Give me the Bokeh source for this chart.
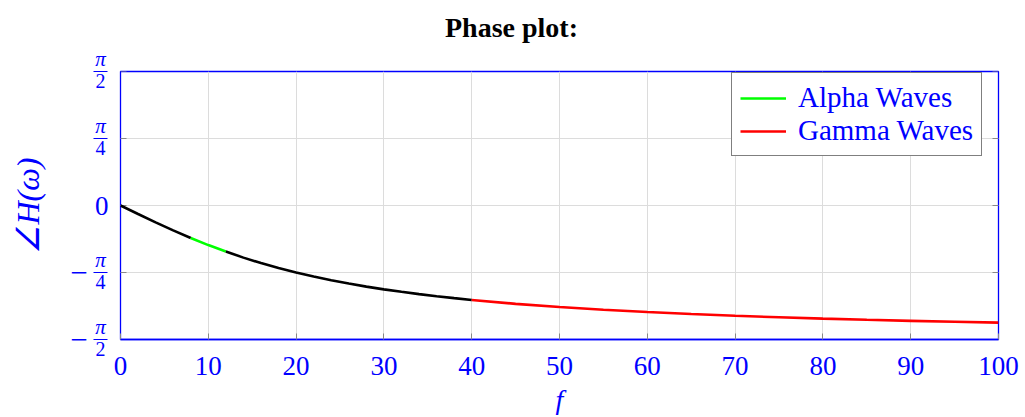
import math
from bokeh.plotting import figure
from bokeh.models import Range1d, FixedTicker, Legend, LegendItem, ColumnDataSource
from bokeh.core.properties import value
from bokeh.embed import file_html
from bokeh.resources import INLINE

# ---- data ----
freq = [0, 2, 4, 6, 8, 10, 12, 14, 16, 18, 20, 22, 24, 26, 28, 30, 32, 34, 36, 38, 40,
        45, 50, 55, 60, 65, 70, 75, 80, 85, 90, 95, 100]
phase = [0.0, -0.10, -0.197, -0.292, -0.381, -0.464, -0.540, -0.611, -0.675, -0.733, -0.785,
         -0.833, -0.876, -0.915, -0.951, -0.983, -1.012, -1.039, -1.064, -1.086, -1.107,
         -1.153, -1.190, -1.222, -1.249, -1.272, -1.293, -1.310, -1.326, -1.340, -1.352, -1.363, -1.373]
alpha_band = (8, 12)
gamma_band = (40, 100)
x_ticks = [0, 10, 20, 30, 40, 50, 60, 70, 80, 90, 100]
y_ticks = [-math.pi / 2, -math.pi / 4, 0, math.pi / 4, math.pi / 2]
y_tick_sign = ["−", "−", "", "", ""]
y_tick_num = ["π", "π", "0", "π", "π"]
y_tick_den = ["2", "4", "", "4", "2"]
title_text = "Phase plot:"
x_label = "f"
y_label = "∠H(ω)"
series_names = ["Alpha Waves", "Gamma Waves"]

BLUE = "#0000ff"
SERIF = "Liberation Serif"

TOP, FRAME_H, BOTTOM = 71, 268, 77
LEFT_W, FRAME_W, RIGHT = 120, 878, 26
H = TOP + FRAME_H + BOTTOM
W = LEFT_W + FRAME_W + RIGHT
dy = math.pi / FRAME_H  # radians per pixel
dx = 100 / FRAME_W      # f units per pixel

# ---------------- main plot ----------------
p = figure(frame_width=FRAME_W, frame_height=FRAME_H, output_backend="svg",
           toolbar_location=None, title=None,
           x_range=Range1d(0, 100), y_range=Range1d(-math.pi / 2, math.pi / 2),
           y_axis_location=None,
           min_border_left=LEFT_W, min_border_right=RIGHT, min_border_top=TOP,
           min_border_bottom=BOTTOM)
p.background_fill_color = "white"
p.border_fill_color = "white"
p.outline_line_color = BLUE
p.outline_line_width = 1.3

xa = p.xaxis[0]
xa.ticker = FixedTicker(ticks=x_ticks)
xa.axis_line_color = BLUE
xa.axis_line_width = 1.3
xa.major_tick_in = 6
xa.major_tick_out = 0
xa.major_tick_line_color = "#888888"
xa.minor_tick_line_color = None
xa.major_label_text_font = SERIF
xa.major_label_text_font_size = "27px"
xa.major_label_text_color = BLUE
xa.major_label_standoff = 17

p.xgrid.ticker = FixedTicker(ticks=x_ticks)
p.xgrid.grid_line_color = "#dcdcdc"
p.ygrid.ticker = FixedTicker(ticks=y_ticks)
p.ygrid.grid_line_color = "#dcdcdc"

# inward grey tick marks on the left and right frame edges
p.segment(x0=[0] * len(y_ticks), x1=[6 * dx] * len(y_ticks), y0=y_ticks, y1=y_ticks,
          line_color="#888888", line_width=1)
p.segment(x0=[100 - 6 * dx] * len(y_ticks), x1=[100] * len(y_ticks), y0=y_ticks, y1=y_ticks,
          line_color="#888888", line_width=1)

def seg(lo, hi):
    xs = [f for f in freq if lo <= f <= hi]
    ys = [v for f, v in zip(freq, phase) if lo <= f <= hi]
    return xs, ys

lw = 2.6
x1, y1 = seg(0, alpha_band[0])
p.line(x1, y1, line_color="black", line_width=lw)
xa_, ya_ = seg(*alpha_band)
r_alpha = p.line(xa_, ya_, line_color="#00ff00", line_width=lw)
x2, y2 = seg(alpha_band[1], gamma_band[0])
p.line(x2, y2, line_color="black", line_width=lw)
xg, yg = seg(*gamma_band)
r_gamma = p.line(xg, yg, line_color="#ff0000", line_width=lw)

legend = Legend(items=[LegendItem(label=series_names[0], renderers=[r_alpha]),
                       LegendItem(label=series_names[1], renderers=[r_gamma])],
                location=(611, 183))
legend.label_text_font = SERIF
legend.label_text_font_size = "29px"
legend.label_text_line_height = 1.1
legend.label_text_color = BLUE
legend.border_line_color = "black"
legend.border_line_width = 1.2
legend.background_fill_alpha = 1.0
legend.glyph_width = 46
legend.glyph_height = 28
legend.label_standoff = 12
legend.padding = 8
legend.spacing = 0
legend.margin = 0
p.add_layout(legend, "center")

# ---------------- transparent overlay: title, axis labels, y tick labels ----------------
ov = figure(width=W, height=H, output_backend="svg", toolbar_location=None,
            x_range=Range1d(-LEFT_W * dx, 100 + RIGHT * dx),
            y_range=Range1d(-math.pi / 2 - BOTTOM * dy, math.pi / 2 + TOP * dy),
            x_axis_location=None, y_axis_location=None, title=None,
            min_border=0, min_border_left=0, min_border_right=0,
            min_border_top=0, min_border_bottom=0)
ov.grid.visible = False
ov.outline_line_color = None
ov.background_fill_alpha = 0
ov.border_fill_alpha = 0
ov.styles = {"position": "absolute", "left": "0px", "top": "0px"}

frac_x = -20 * dx
fr_idx = [i for i, d in enumerate(y_tick_den) if d]
zero_idx = [i for i, d in enumerate(y_tick_den) if not d]
neg_idx = [i for i, s in enumerate(y_tick_sign) if s]

num_src = ColumnDataSource(dict(x=[frac_x] * len(fr_idx),
                                y=[y_ticks[i] + 1.0 * dy for i in fr_idx],
                                t=[y_tick_num[i] for i in fr_idx]))
ov.text("x", "y", text="t", source=num_src, text_align="center", text_baseline="bottom",
        text_font=value(SERIF), text_font_size="21px", text_font_style="italic",
        text_color=BLUE)
den_src = ColumnDataSource(dict(x=[frac_x] * len(fr_idx),
                                y=[y_ticks[i] - 2.0 * dy for i in fr_idx],
                                t=[y_tick_den[i] for i in fr_idx]))
ov.text("x", "y", text="t", source=den_src, text_align="center", text_baseline="top",
        text_font=value(SERIF), text_font_size="20px", text_color=BLUE)
ov.segment(x0=[frac_x - 7 * dx] * len(fr_idx), x1=[frac_x + 7 * dx] * len(fr_idx),
           y0=[y_ticks[i] for i in fr_idx], y1=[y_ticks[i] for i in fr_idx],
           line_color=BLUE, line_width=1.2)
sign_src = ColumnDataSource(dict(x=[-41.5 * dx] * len(neg_idx), y=[y_ticks[i] for i in neg_idx],
                                 t=[y_tick_sign[i] for i in neg_idx]))
ov.text("x", "y", text="t", source=sign_src, text_align="center", text_baseline="middle",
        text_font=value(SERIF), text_font_size="31px", text_color=BLUE)
zero_src = ColumnDataSource(dict(x=[-12 * dx] * len(zero_idx), y=[y_ticks[i] for i in zero_idx],
                                 t=[y_tick_num[i] for i in zero_idx]))
ov.text("x", "y", text="t", source=zero_src, text_align="right", text_baseline="middle",
        text_font=value(SERIF), text_font_size="27px", text_color=BLUE)

ov.text(x=[-93 * dx], y=[0], text=[y_label], angle=math.pi / 2, text_align="center",
        text_baseline="middle", text_font=value(SERIF), text_font_size="32px",
        text_font_style="italic", text_color=BLUE)
ov.text(x=[50], y=[-math.pi / 2 - 60 * dy], text=[x_label], text_align="center",
        text_baseline="middle", text_font=value(SERIF), text_font_size="28px",
        text_font_style="italic", text_color=BLUE)
ov.text(x=[391 * dx], y=[math.pi / 2 + 44 * dy], text=[title_text], text_align="center",
        text_baseline="middle", text_font=value(SERIF), text_font_size="28px",
        text_font_style="bold", text_color="black")

open("out.html", "w").write(file_html([p, ov], INLINE))
